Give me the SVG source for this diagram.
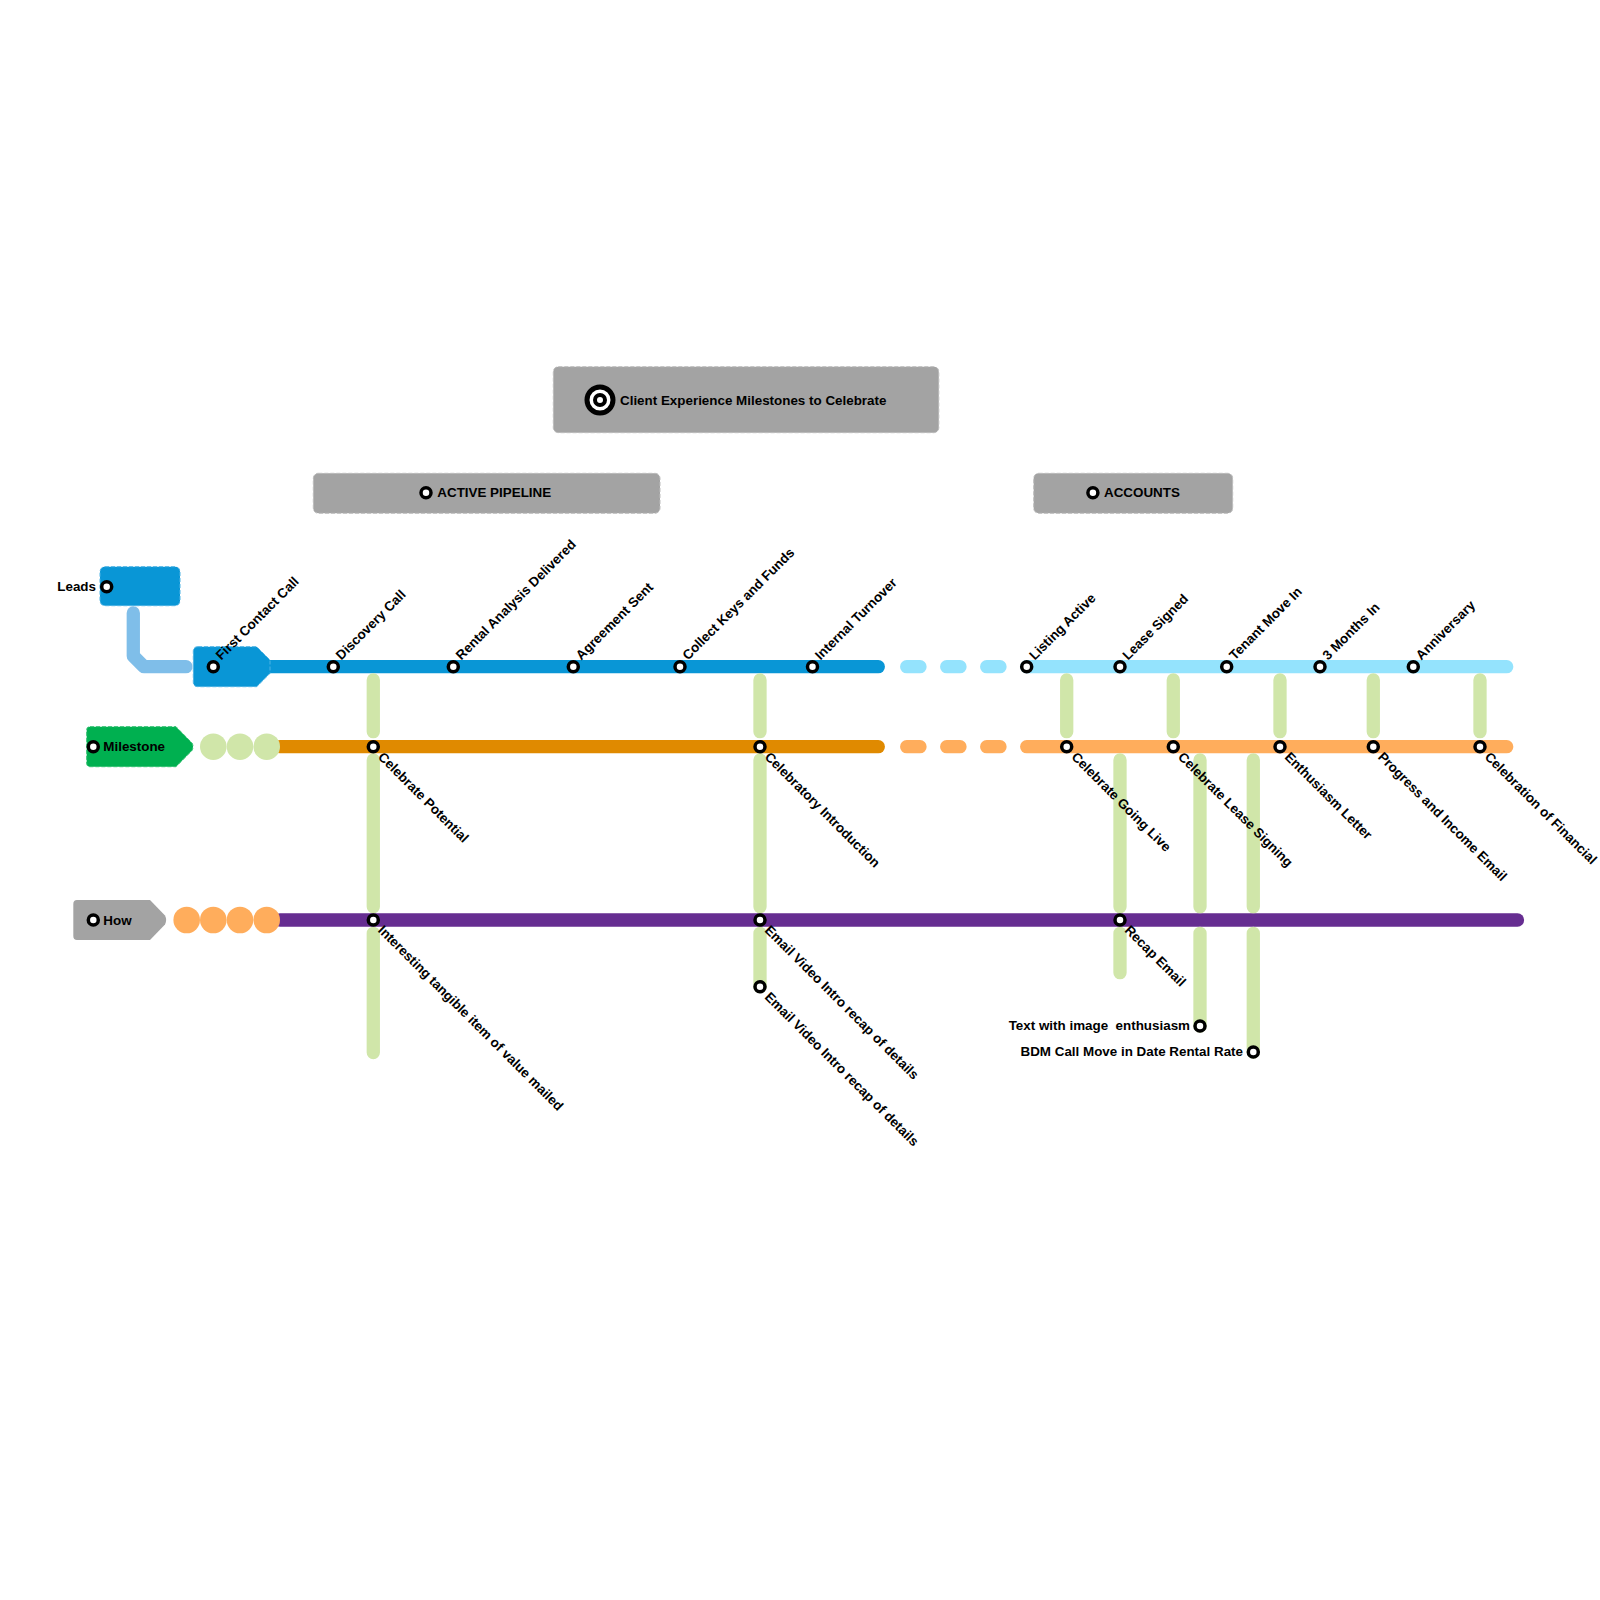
<svg xmlns="http://www.w3.org/2000/svg" width="1600" height="1600" viewBox="0 0 1600 1600">
<style>
.lbl{font-family:"Liberation Sans",Arial,sans-serif;font-weight:bold;font-size:13.4px;fill:#000}
.stn{fill:#fff;stroke:#000;stroke-width:3.5}
.ln{fill:none;stroke-linecap:round;stroke-linejoin:round;stroke-width:13.3}
.blue{stroke:#0996D6}
.lblue{stroke:#94E3FD}
.conn{stroke:#7FBEE9}
.dorg{stroke:#E08A00}
.lorg{stroke:#FFAD5C}
.purp{stroke:#662D91}
.grn{stroke:#D0E6A9}
.dash{stroke-dasharray:13.3 26.7}
.gbox{fill:#A3A3A3;stroke:#BDBDBD;stroke-width:1;stroke-dasharray:4 2}
.bbox{fill:#0996D6;stroke:#4FB3E4;stroke-width:1;stroke-dasharray:4 2}
</style>
<rect width="1600" height="1600" fill="#fff"/>

<g id="headers">
  <g id="title">
    <rect class="gbox" x="553.3" y="366.7" width="385.5" height="66" rx="5"/>
    <circle cx="600" cy="400" r="13" fill="#fff" stroke="#000" stroke-width="5"/>
    <circle cx="600" cy="400" r="5" fill="#fff" stroke="#000" stroke-width="4"/>
    <text class="lbl" x="620" y="404.5">Client Experience Milestones to Celebrate</text>
  </g>
  <g id="active-pipeline">
    <rect class="gbox" x="313.3" y="473.3" width="346.7" height="40" rx="5"/>
    <circle class="stn" cx="426" cy="492.7" r="5"/>
    <text class="lbl" x="437.3" y="497">ACTIVE PIPELINE</text>
  </g>
  <g id="accounts">
    <rect class="gbox" x="1033.7" y="473.3" width="199" height="40" rx="5"/>
    <circle class="stn" cx="1092.9" cy="492.7" r="5"/>
    <text class="lbl" x="1104" y="497">ACCOUNTS</text>
  </g>
</g>

<g id="connectors">
  <path class="ln conn" d="M133.3,613 V656 L144,666.7 H186"/>
  <line class="ln blue" x1="265" y1="666.7" x2="878.3" y2="666.7"/>
  <line class="ln lblue dash" x1="906.7" y1="666.7" x2="1000" y2="666.7"/>
  <line class="ln lblue" x1="1026.7" y1="666.7" x2="1506.7" y2="666.7"/>
  <line class="ln dorg" x1="280" y1="746.7" x2="878.3" y2="746.7"/>
  <line class="ln lorg dash" x1="906.7" y1="746.7" x2="1000" y2="746.7"/>
  <line class="ln lorg" x1="1026.7" y1="746.7" x2="1506.7" y2="746.7"/>
  <line class="ln purp" x1="280" y1="920" x2="1517.5" y2="920"/>
  <path class="ln grn" d="M373.3,680 V731.7 M760,680 V731.7 M1066.7,680 V731.7 M1173.3,680 V731.7 M1280,680 V731.7 M1373.3,680 V731.7 M1480,680 V731.7"/>
  <path class="ln grn" d="M373.3,760 V906.7 M760,760 V906.7 M1120,760 V906.7 M1200,760 V906.7 M1253.3,760 V906.7"/>
  <path class="ln grn" d="M373.3,933.3 V1052.5 M760,933.3 V986.7 M1120,933.3 V972.7 M1200,933.3 V1026 M1253.3,933.3 V1052"/>
</g>

<g id="legend">
  <g id="leads">
    <rect class="bbox" x="100" y="566.7" width="80" height="39" rx="5"/>
    <circle class="stn" cx="106.7" cy="586.7" r="5"/>
    <text class="lbl" x="96" y="591" text-anchor="end">Leads</text>
  </g>
  <g id="first-contact-box">
    <path class="bbox" d="M198,646.7 H256.7 L270,660 V673.3 L256.7,686.7 H198 Q193.3,686.7 193.3,682 V651.3 Q193.3,646.7 198,646.7 Z"/>
  </g>
  <g id="milestone">
    <path d="M90,726.7 H176 L192,743 Q194,746.7 192,750.4 L176,766.7 H90 Q86.7,766.7 86.7,763 V730 Q86.7,726.7 90,726.7 Z" fill="#00B050" stroke="#33C070" stroke-width="1" stroke-dasharray="4 2"/>
    <circle class="stn" cx="93.3" cy="746.7" r="5"/>
    <text class="lbl" x="103.3" y="751">Milestone</text>
    <circle cx="213.3" cy="746.7" r="13.3" fill="#D0E6A9"/>
    <circle cx="240" cy="746.7" r="13.3" fill="#D0E6A9"/>
    <circle cx="266.7" cy="746.7" r="13.3" fill="#D0E6A9"/>
  </g>
  <g id="how">
    <path d="M77,900 H150 L165,915.5 Q167.3,920 165,924.5 L150,940 H77 Q73.3,940 73.3,936 V904 Q73.3,900 77,900 Z" fill="#A3A3A3"/>
    <circle class="stn" cx="93.3" cy="920" r="5"/>
    <text class="lbl" x="103.3" y="924.5">How</text>
    <circle cx="186.7" cy="920" r="13.3" fill="#FFAD5C"/>
    <circle cx="213.3" cy="920" r="13.3" fill="#FFAD5C"/>
    <circle cx="240" cy="920" r="13.3" fill="#FFAD5C"/>
    <circle cx="266.7" cy="920" r="13.3" fill="#FFAD5C"/>
  </g>
</g>

<g id="stations-top">
  <g id="s-first-contact"><circle class="stn" cx="213.3" cy="666.7" r="5"/><text class="lbl" x="221.3" y="660.7" transform="rotate(-45 221.3 660.7)">First Contact Call</text></g>
  <g id="s-discovery"><circle class="stn" cx="333.3" cy="666.7" r="5"/><text class="lbl" x="341.3" y="660.7" transform="rotate(-45 341.3 660.7)">Discovery Call</text></g>
  <g id="s-rental"><circle class="stn" cx="453.3" cy="666.7" r="5"/><text class="lbl" x="461.3" y="660.7" transform="rotate(-45 461.3 660.7)">Rental Analysis Delivered</text></g>
  <g id="s-agreement"><circle class="stn" cx="573.3" cy="666.7" r="5"/><text class="lbl" x="581.3" y="660.7" transform="rotate(-45 581.3 660.7)">Agreement Sent</text></g>
  <g id="s-collect"><circle class="stn" cx="680" cy="666.7" r="5"/><text class="lbl" x="688" y="660.7" transform="rotate(-45 688 660.7)">Collect Keys and Funds</text></g>
  <g id="s-internal"><circle class="stn" cx="812.5" cy="666.7" r="5"/><text class="lbl" x="820.5" y="660.7" transform="rotate(-45 820.5 660.7)">Internal Turnover</text></g>
  <g id="s-listing"><circle class="stn" cx="1026.7" cy="666.7" r="5"/><text class="lbl" x="1034.7" y="660.7" transform="rotate(-45 1034.7 660.7)">Listing Active</text></g>
  <g id="s-lease"><circle class="stn" cx="1120" cy="666.7" r="5"/><text class="lbl" x="1128" y="660.7" transform="rotate(-45 1128 660.7)">Lease Signed</text></g>
  <g id="s-tenant"><circle class="stn" cx="1226.7" cy="666.7" r="5"/><text class="lbl" x="1234.7" y="660.7" transform="rotate(-45 1234.7 660.7)">Tenant Move In</text></g>
  <g id="s-3months"><circle class="stn" cx="1320" cy="666.7" r="5"/><text class="lbl" x="1328" y="660.7" transform="rotate(-45 1328 660.7)">3 Months In</text></g>
  <g id="s-anniversary"><circle class="stn" cx="1413.3" cy="666.7" r="5"/><text class="lbl" x="1421.3" y="660.7" transform="rotate(-45 1421.3 660.7)">Anniversary</text></g>
</g>

<g id="stations-mid">
  <g id="s-cel-potential"><circle class="stn" cx="373.3" cy="746.7" r="5"/><text class="lbl" x="377.3" y="757.7" transform="rotate(45 377.3 757.7)">Celebrate Potential</text></g>
  <g id="s-cel-intro"><circle class="stn" cx="760" cy="746.7" r="5"/><text class="lbl" x="764" y="757.7" transform="rotate(45 764 757.7)">Celebratory Introduction</text></g>
  <g id="s-cel-live"><circle class="stn" cx="1066.7" cy="746.7" r="5"/><text class="lbl" x="1070.7" y="757.7" transform="rotate(45 1070.7 757.7)">Celebrate Going Live</text></g>
  <g id="s-cel-lease"><circle class="stn" cx="1173.3" cy="746.7" r="5"/><text class="lbl" x="1177.3" y="757.7" transform="rotate(45 1177.3 757.7)">Celebrate Lease Signing</text></g>
  <g id="s-enthusiasm"><circle class="stn" cx="1280" cy="746.7" r="5"/><text class="lbl" x="1284" y="757.7" transform="rotate(45 1284 757.7)">Enthusiasm Letter</text></g>
  <g id="s-progress"><circle class="stn" cx="1373.3" cy="746.7" r="5"/><text class="lbl" x="1377.3" y="757.7" transform="rotate(45 1377.3 757.7)">Progress and Income Email</text></g>
  <g id="s-financial"><circle class="stn" cx="1480" cy="746.7" r="5"/><text class="lbl" x="1484" y="757.7" transform="rotate(45 1484 757.7)">Celebration of Financial</text></g>
</g>

<g id="stations-bottom">
  <g id="s-tangible"><circle class="stn" cx="373.3" cy="920" r="5"/><text class="lbl" x="377.3" y="931" transform="rotate(45 377.3 931)">Interesting tangible item of value mailed</text></g>
  <g id="s-email-video-1"><circle class="stn" cx="760" cy="920" r="5"/><text class="lbl" x="764" y="931" transform="rotate(45 764 931)">Email Video Intro recap of details</text></g>
  <g id="s-recap"><circle class="stn" cx="1120" cy="920" r="5"/><text class="lbl" x="1124" y="931" transform="rotate(45 1124 931)">Recap Email</text></g>
  <g id="s-email-video-2"><circle class="stn" cx="760" cy="986.7" r="5"/><text class="lbl" x="764" y="997.7" transform="rotate(45 764 997.7)">Email Video Intro recap of details</text></g>
  <g id="s-text-image"><circle class="stn" cx="1200" cy="1026" r="5"/><text class="lbl" x="1190" y="1030" text-anchor="end" xml:space="preserve">Text with image  enthusiasm</text></g>
  <g id="s-bdm"><circle class="stn" cx="1253.3" cy="1052" r="5"/><text class="lbl" x="1243" y="1056" text-anchor="end">BDM Call Move in Date Rental Rate</text></g>
</g>
</svg>
